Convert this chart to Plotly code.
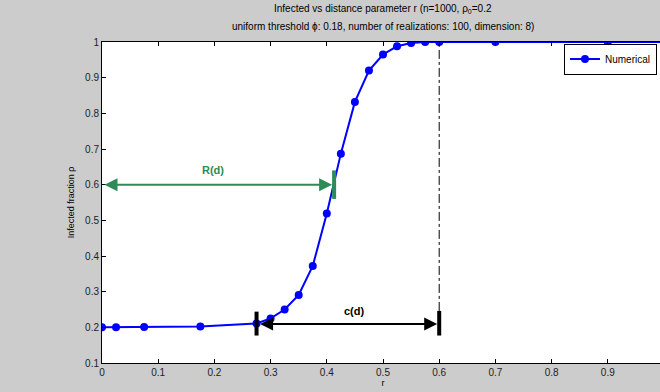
import plotly.graph_objects as go

# Simulated infected fraction vs distance parameter r
r_values = [0, 0.025, 0.075, 0.175, 0.275, 0.3, 0.325, 0.35, 0.375, 0.4,
            0.425, 0.45, 0.475, 0.5, 0.525, 0.55, 0.575, 0.6, 0.7, 0.9, 1.0]
rho_values = [0.200, 0.200, 0.201, 0.202, 0.211, 0.225, 0.250, 0.291, 0.372, 0.519,
              0.687, 0.832, 0.920, 0.965, 0.988, 0.997, 1.0, 1.0, 1.0, 1.0, 1.0]

x_ticks = [0, 0.1, 0.2, 0.3, 0.4, 0.5, 0.6, 0.7, 0.8, 0.9, 1.0]
y_ticks = [0.1, 0.2, 0.3, 0.4, 0.5, 0.6, 0.7, 0.8, 0.9, 1.0]

# Annotated quantities
R_D = 0.413        # r where rho reaches the level below
RHO_R = 0.6        # level for R(d)
C_START = 0.275    # start of critical range c(d)
C_END = 0.6        # end of critical range c(d)
RHO_C = 0.209      # height of the c(d) arrow

FONT = "Liberation Sans, Arial, Helvetica, sans-serif"
GREEN = "rgb(46,139,87)"

fig = go.Figure()
fig.add_trace(go.Scatter(
    x=r_values, y=rho_values, mode="lines+markers", name="Numerical",
    line=dict(color="#0000ff", width=2),
    marker=dict(color="#0000ff", size=8),
))

shapes = [
    # dash-dot guide at the end of the critical range
    dict(type="line", xref="x", yref="y", x0=C_END, x1=C_END, y0=RHO_C + 0.037, y1=1.0,
         line=dict(color="black", width=1, dash="dashdot")),
    # end bars of c(d)
    dict(type="line", xref="x", yref="y", x0=C_START, x1=C_START,
         y0=RHO_C - 0.032, y1=RHO_C + 0.035, line=dict(color="black", width=4)),
    dict(type="line", xref="x", yref="y", x0=C_END, x1=C_END,
         y0=RHO_C - 0.032, y1=RHO_C + 0.037, line=dict(color="black", width=4)),
    # end bar of R(d)
    dict(type="line", xref="x", yref="y", x0=R_D, x1=R_D,
         y0=RHO_R - 0.04, y1=RHO_R + 0.04, line=dict(color=GREEN, width=4)),
]

annotations = [
    # R(d) double arrow
    dict(x=R_D, y=RHO_R, ax=0, ay=RHO_R, xref="x", yref="y", axref="x", ayref="y",
         text="", showarrow=True, arrowhead=2, startarrowhead=2, arrowside="end+start",
         arrowsize=1.3, startarrowsize=1.3, arrowwidth=2, arrowcolor=GREEN,
         standoff=2, startstandoff=1),
    dict(x=0.197, y=0.642, xref="x", yref="y", text="<b>R(d)</b>", showarrow=False,
         font=dict(family=FONT, size=11, color=GREEN)),
    # c(d) double arrow
    dict(x=C_END, y=RHO_C, ax=C_START, ay=RHO_C, xref="x", yref="y", axref="x", ayref="y",
         text="", showarrow=True, arrowhead=2, startarrowhead=2, arrowside="end+start",
         arrowsize=1.3, startarrowsize=1.3, arrowwidth=2, arrowcolor="black",
         standoff=2, startstandoff=2),
    dict(x=0.45, y=0.245, xref="x", yref="y", text="<b>c(d)</b>", showarrow=False,
         font=dict(family=FONT, size=11, color="black")),
    # two-line title
    dict(x=0.5, y=1.103, xref="paper", yref="paper", yanchor="middle", showarrow=False,
         text="Infected vs distance parameter r (n=1000, ρ<sub>0</sub>=0.2",
         font=dict(family=FONT, size=10, color="black")),
    dict(x=0.5, y=1.048, xref="paper", yref="paper", yanchor="middle", showarrow=False,
         text="uniform threshold ϕ: 0.18, number of realizations: 100, dimension: 8)",
         font=dict(family=FONT, size=10, color="black")),
]

axis_common = dict(
    showline=True, linecolor="black", linewidth=1, mirror="ticks",
    ticks="inside", ticklen=4, tickcolor="black", tickwidth=1,
    showgrid=False, zeroline=False, automargin=False,
    tickfont=dict(family=FONT, size=10, color="#222222"),
)

fig.update_layout(
    width=668, height=392,
    margin=dict(l=102, r=4, t=42, b=29),
    paper_bgcolor="#cccccc", plot_bgcolor="white",
    font=dict(family=FONT, size=10, color="black"),
    shapes=shapes, annotations=annotations,
    showlegend=True,
    legend=dict(x=0.9875, y=0.995, xanchor="right", yanchor="top",
                bgcolor="white", bordercolor="black", borderwidth=1,
                font=dict(family=FONT, size=10, color="black"),
                itemwidth=30, tracegroupgap=0),
    xaxis=dict(range=[0, 1], tickvals=x_ticks,
               ticktext=[f"{v:g}" for v in x_ticks],
               title=dict(text="r", standoff=2, font=dict(family=FONT, size=9)),
               **axis_common),
    yaxis=dict(range=[0.1, 1], tickvals=y_ticks,
               ticktext=[f"{v:g}" for v in y_ticks],
               title=dict(text="Infected fraction ρ", standoff=8, font=dict(family=FONT, size=9)),
               **axis_common),
)

fig.write_html("out.html", post_script="document.body.style.overflow='hidden';")
